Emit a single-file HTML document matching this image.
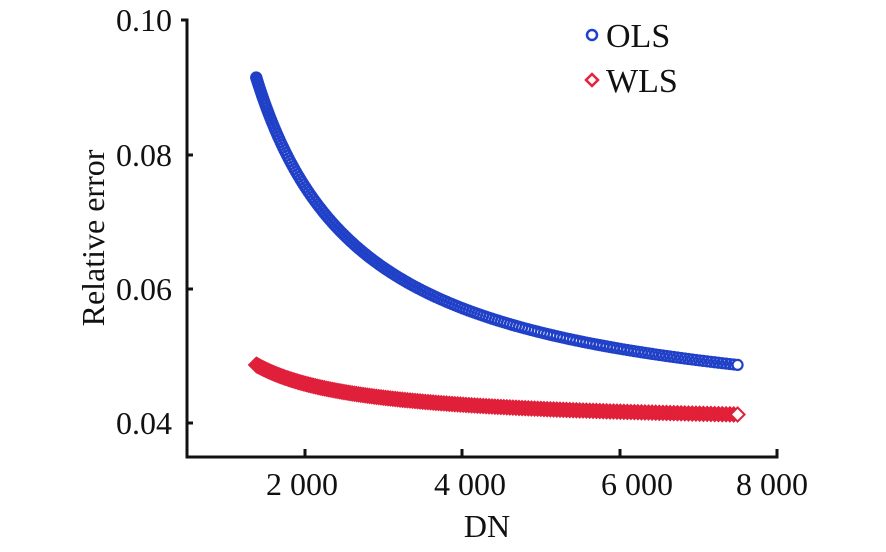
<!DOCTYPE html>
<html><head><meta charset="utf-8"><style>
body{margin:0;background:#fff}
svg{display:block}
text{font-family:"Liberation Serif",serif;fill:#111}
</style></head><body>
<svg id="s" width="886" height="552" xmlns="http://www.w3.org/2000/svg">
<g stroke="#111" stroke-width="3" fill="none">
<path d="M181,20H187V457H777V449"/>
<path d="M187,155h6M187,289h6M187,423h6M305,457v-8M462,457v-8M620,457v-8"/>
</g>
<g font-size="32" text-anchor="end">
<text x="172" y="31">0.10</text>
<text x="172" y="166">0.08</text>
<text x="172" y="300">0.06</text>
<text x="172" y="434">0.04</text>
</g>
<g font-size="32" text-anchor="middle">
<text x="302" y="495">2 000</text>
<text x="470" y="495">4 000</text>
<text x="637" y="495">6 000</text>
<text x="772" y="495">8 000</text>
<text x="487" y="537">DN</text>
</g>
<text font-size="32" text-anchor="middle" transform="translate(104,238) rotate(-90)">Relative error</text>
<circle cx="592" cy="35" r="5" fill="none" stroke="#1f3fd0" stroke-width="2.5"/>
<text x="606" y="47" font-size="34">OLS</text>
<path d="M592,74l6,6l-6,6l-6,-6z" fill="none" stroke="#e8203a" stroke-width="2.5"/>
<text x="606" y="92" font-size="34">WLS</text>
<g id="o"></g><g id="w"></g>
</svg>
<script>
var ns="http://www.w3.org/2000/svg";
function X(v){return 305+(v-2000)*157.3/2000}
function Y(v){return 423-(v-0.04)*134.3/0.02}
var o=document.getElementById('o'),w=document.getElementById('w');
for(var i=0;i<=200;i++){
 var x=1380+(7500-1380)*Math.pow(i/200,1.6);
 var y1=0.039+72.4/x, y2=0.0396+12.5/x;
 var c=document.createElementNS(ns,'circle');
 c.setAttribute('cx',X(x));c.setAttribute('cy',Y(y1));c.setAttribute('r',5);
 c.setAttribute('fill',i==200?'#fff':'none');c.setAttribute('stroke','#2040c8');c.setAttribute('stroke-width',2.2);
 o.appendChild(c);
 var p=document.createElementNS(ns,'path');var px=X(x),py=Y(y2);
 p.setAttribute('d','M'+px+','+(py-7)+'l7,7l-7,7l-7,-7z');
 p.setAttribute('fill',i==200?'#fff':'#e8202f');p.setAttribute('stroke','#e0203a');p.setAttribute('stroke-width',2);
 w.appendChild(p);
}
</script>
</body></html>
